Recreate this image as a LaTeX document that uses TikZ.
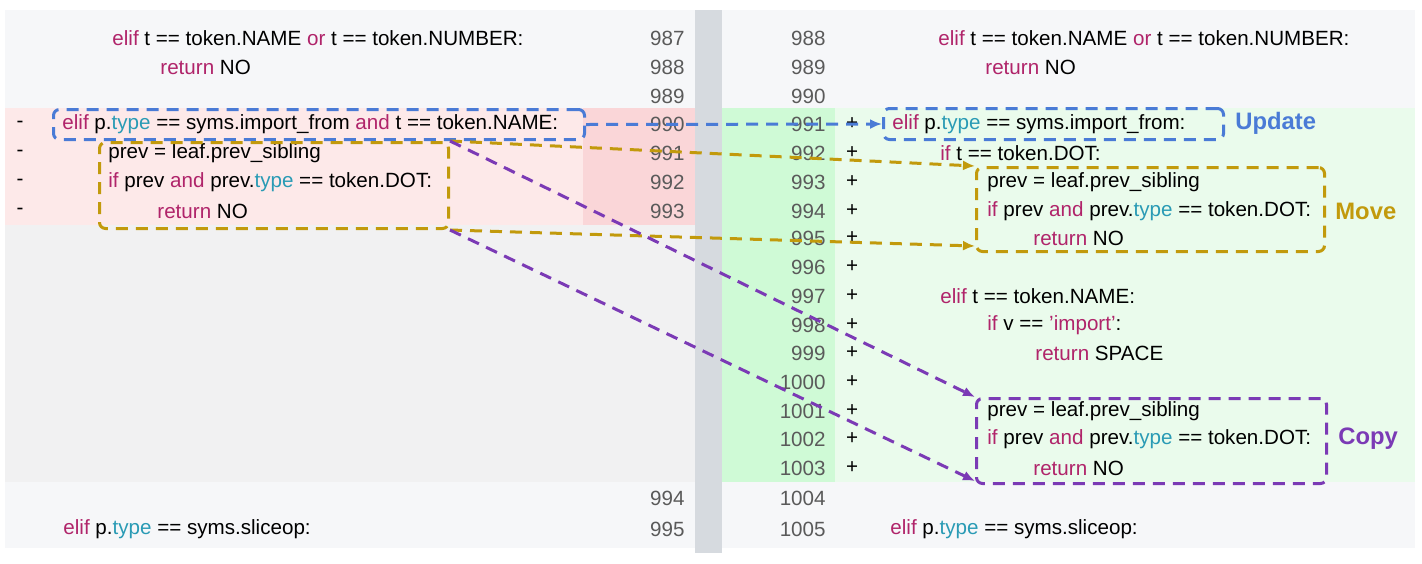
\documentclass[tikz,border=0pt]{standalone}
\usepackage{fontspec}
\setmainfont{Liberation Sans}
\usetikzlibrary{arrows.meta}
\definecolor{kw}{HTML}{B0246A}
\definecolor{ty}{HTML}{2A9BB5}
\definecolor{ublue}{HTML}{4A7BD6}
\definecolor{mgold}{HTML}{C29A0C}
\definecolor{cpurp}{HTML}{7B3AB5}
\definecolor{lightbg}{HTML}{F6F7F9}
\definecolor{redbg}{HTML}{FDE9E9}
\definecolor{rednum}{HTML}{FAD6D8}
\definecolor{graybg}{HTML}{F1F1F2}
\definecolor{greenbg}{HTML}{EAFBEC}
\definecolor{greennum}{HTML}{CFFAD6}
\definecolor{sep}{HTML}{D6DADF}
\definecolor{numc}{HTML}{5A5A5A}
\newcommand{\kw}[1]{\textcolor{kw}{#1}}
\newcommand{\ty}[1]{\textcolor{ty}{#1}}
\begin{document}
\begin{tikzpicture}[x=0.5pt,y=-0.5pt,
  code/.style={anchor=west,inner sep=0pt,font=\fontsize{10.3}{12}\selectfont},
  num/.style={anchor=east,inner sep=0pt,text=numc,font=\fontsize{10.3}{12}\selectfont},
  pm/.style={anchor=center,inner sep=0pt,font=\fontsize{10.3}{12}\selectfont},
  dbox/.style={draw,line width=1.5pt,dash pattern=on 6pt off 4pt,rounded corners=3pt,inner sep=0pt},
  darr/.style={line width=1.5pt,dash pattern=on 6pt off 4pt,-{Latex[length=6pt,width=5pt]}},
  lab/.style={anchor=west,inner sep=0pt,font=\fontsize{11.9}{14}\selectfont\bfseries}]
\useasboundingbox (0,0) rectangle (1422,563);
\fill[white] (0,0) rectangle (1422,563);
% backgrounds
\fill[lightbg] (5,10) rectangle (695,108);
\fill[lightbg] (722,10) rectangle (1415,108);
\fill[lightbg] (5,482) rectangle (695,548);
\fill[lightbg] (722,482) rectangle (1415,548);
\fill[redbg] (5,108) rectangle (583,225);
\fill[rednum] (583,108) rectangle (695,225);
\fill[graybg] (5,225) rectangle (695,482);
\fill[greenbg] (835,108) rectangle (1415,482);
\fill[greennum] (722,108) rectangle (835,482);
\fill[sep] (695,10) rectangle (722,553);
% left code
\node[code] (l987) at (112,38) {\kw{elif} t == token.NAME \kw{or} t == token.NUMBER:};
\node[code] (l988) at (160,67) {\kw{return} NO};
\node[code] (l990) at (62,124) {\kw{elif} p.\ty{type} == syms.import\_from \kw{and} t == token.NAME:};
\node[code] (l991) at (108,153) {prev = leaf.prev\_sibling};
\node[code] (l992) at (108,182) {\kw{if} prev \kw{and} prev.\ty{type} == token.DOT:};
\node[code] (l993) at (157,211) {\kw{return} NO};
\node[code] (l995) at (63,529) {\kw{elif} p.\ty{type} == syms.sliceop:};
\foreach \y/\n in {124/a,153/b,182/c,211/d} \node[pm] (m\n) at (20,\y) {-};
% left numbers
\foreach \y/\n in {38/987,67/988,96/989,124/990,153/991,182/992,211/993,498/994,529/995}
  \node[num] (ln\n) at (685,\y) {\n};
% right numbers
\foreach \y/\n in {38/988,67/989,96/990,124/991,153/992,182/993,211/994,238/995,267/996,296/997,325/998,353/999,382/1000,411/1001,439/1002,468/1003,498/1004,529/1005}
  \node[num] (rn\n) at (826,\y) {\n};
\foreach \y/\n in {124/991,153/992,182/993,211/994,238/995,267/996,296/997,325/998,353/999,382/1000,411/1001,439/1002,468/1003}
  \node[pm] (p\n) at (852,\y) {+};
% right code
\node[code] (r988) at (938,38) {\kw{elif} t == token.NAME \kw{or} t == token.NUMBER:};
\node[code] (r989) at (985,67) {\kw{return} NO};
\node[code] (r991) at (892,124) {\kw{elif} p.\ty{type} == syms.import\_from:};
\node[code] (r992) at (940,153) {\kw{if} t == token.DOT:};
\node[code] (r993) at (987,182) {prev = leaf.prev\_sibling};
\node[code] (r994) at (987,211) {\kw{if} prev \kw{and} prev.\ty{type} == token.DOT:};
\node[code] (r995) at (1033,238) {\kw{return} NO};
\node[code] (r997) at (940,296) {\kw{elif} t == token.NAME:};
\node[code] (r998) at (987,325) {\kw{if} v == \textcolor{kw}{'import'}:};
\node[code] (r999) at (1035,353) {\kw{return} SPACE};
\node[code] (r1001) at (987,411) {prev = leaf.prev\_sibling};
\node[code] (r1002) at (987,439) {\kw{if} prev \kw{and} prev.\ty{type} == token.DOT:};
\node[code] (r1003) at (1033,468) {\kw{return} NO};
\node[code] (r1005) at (890,529) {\kw{elif} p.\ty{type} == syms.sliceop:};
% boxes (sizes in pt = px/2)
\node[dbox,ublue,minimum width=265.5pt,minimum height=15pt,anchor=north west] (bL) at (52,108) {};
\node[dbox,ublue,minimum width=170pt,minimum height=15.5pt,anchor=north west] (bR) at (882,107) {};
\node[dbox,mgold,minimum width=174.5pt,minimum height=43pt,anchor=north west] (gL) at (98,141) {};
\node[dbox,mgold,minimum width=174pt,minimum height=42pt,anchor=north west] (gR) at (975,166) {};
\node[dbox,cpurp,minimum width=175pt,minimum height=42.5pt,anchor=north west] (pR) at (975,397) {};
\node[lab,ublue] (upd) at (1235,123) {Update};
\node[lab,mgold] (mov) at (1335,211) {Move};
\node[lab,cpurp] (cop) at (1338,439) {Copy};
% arrows
\draw[darr,ublue] (bL.east) -- (bR.west);
\draw[darr,mgold] (gL.north east) -- (gR.north west);
\draw[darr,mgold] (gL.south east) -- ([yshift=3.5pt]gR.south west);
\draw[darr,cpurp] (gL.north east) -- (pR.north west);
\draw[darr,cpurp] (gL.south east) -- ([yshift=2pt]pR.south west);
\end{tikzpicture}
\end{document}
